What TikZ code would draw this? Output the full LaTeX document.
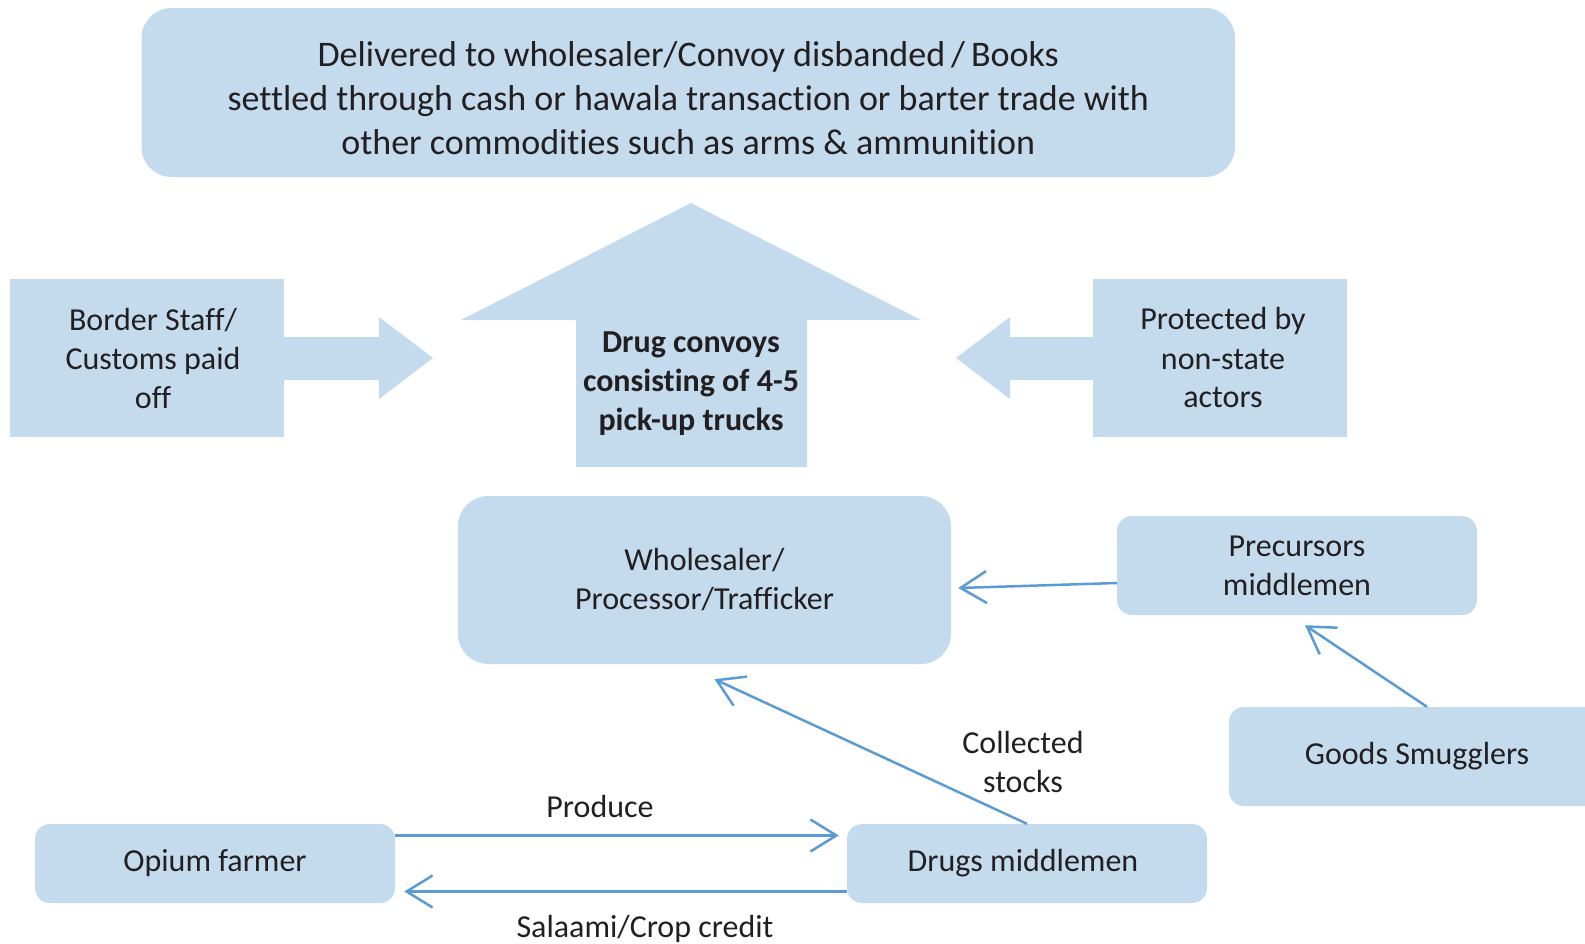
\documentclass[tikz,border=0pt]{standalone}
\usepackage{fontspec}
\setmainfont{Carlito}[Ligatures=NoCommon]
\usetikzlibrary{arrows.meta,calc}
\definecolor{boxfill}{HTML}{C4DBEE}
\definecolor{linkc}{HTML}{5B9BD5}
\definecolor{txt}{HTML}{231F20}
\tikzset{
  txtbox/.style={fill=boxfill, draw=none, text=txt, align=center, inner sep=0pt,
    font=\fontsize{32}{39}\selectfont},
  rbox/.style={txtbox, rounded corners=15pt},
  bigr/.style={txtbox, rounded corners=30pt},
  blockarrow/.style={fill=boxfill, draw=none},
  link/.style={draw=linkc, line width=2.5pt,
    -{Straight Barb[length=26pt,width=32pt,line width=2.5pt]}},
  lbl/.style={text=txt, align=center, inner sep=0pt, font=\fontsize{32}{39}\selectfont}
}
\begin{document}
\begin{tikzpicture}[x=1pt,y=-1pt]
\useasboundingbox (0,0) rectangle (1585,943);
\clip (0,0) rectangle (1585,943);

% top box
\node[bigr, minimum width=1093.5pt, minimum height=169pt,
      font=\fontsize{36}{44}\selectfont] (top) at (688.25,92.5)
  {\rule{0pt}{36pt}Delivered to wholesaler/Convoy disbanded\,/\,Books\\
   settled through cash or hawala transaction or barter trade with\\
   other commodities such as arms \& ammunition};

% big up arrow
\path[blockarrow] (576,467) -- (576,320) -- (461,320) -- (691,203) -- (921,320)
   -- (807,320) -- (807,467) -- cycle;
\node[lbl, font=\bfseries\fontsize{32}{39}\selectfont] (convoy) at (691,384)
  {Drug convoys\\consisting of 4-5\\pick-up trucks};

% left box and arrow
\node[txtbox, minimum width=274pt, minimum height=158pt] (border) at (147,358)
  {\hspace*{12pt}Border Staff/\\\hspace*{12pt}Customs paid\\\hspace*{12pt}off};
\path[blockarrow] (282,337) -- (379,337) -- (379,317) -- (433,358) -- (379,399)
   -- (379,380) -- (282,380) -- cycle;

% right box and arrow
\node[txtbox, minimum width=254pt, minimum height=158pt] (prot) at (1220,358)
  {\hspace*{6pt}Protected by\\\hspace*{6pt}non-state\\\hspace*{6pt}actors};
\path[blockarrow] (1095,337) -- (1010,337) -- (1010,317) -- (956,358) -- (1010,399)
   -- (1010,380) -- (1095,380) -- cycle;

% lower boxes
\node[bigr, minimum width=493pt, minimum height=168pt] (ws) at (704.5,580)
  {Wholesaler/\\Processor/Trafficker};
\node[rbox, minimum width=360pt, minimum height=99pt] (prec) at (1297,565.5)
  {Precursors\\middlemen};
\node[rbox, minimum width=376pt, minimum height=99pt] (goods) at (1417,756.5)
  {Goods Smugglers};
\node[rbox, minimum width=360pt, minimum height=79pt] (farmer) at (215,863.5)
  {Opium farmer};
\node[rbox, minimum width=360pt, minimum height=79pt] (dm) at (1027,863.5)
  {\hspace*{-8pt}Drugs middlemen};

% connectors
\draw[link] ($(farmer.east)+(0,-28)$) -- ($(dm.west)+(-8,-28)$);
\draw[link] ($(dm.west)+(0,28)$) -- ($(farmer.east)+(9,28)$);
\draw[link] (dm.north) -- ($(ws.south)+(10,15)$);
\draw[link] ($(prec.west)+(0,17.5)$) -- ($(ws.east)+(7,8)$);
\draw[link] ($(goods.north)+(10,0)$) -- ($(prec.south)+(8,10)$);

% labels
\node[lbl] (lprod) at (600,806) {Produce};
\node[lbl] (lsal) at (645,929) {Salaami/Crop credit};
\node[lbl] (lcoll) at (1023,762) {Collected\\stocks};
\end{tikzpicture}
\end{document}
